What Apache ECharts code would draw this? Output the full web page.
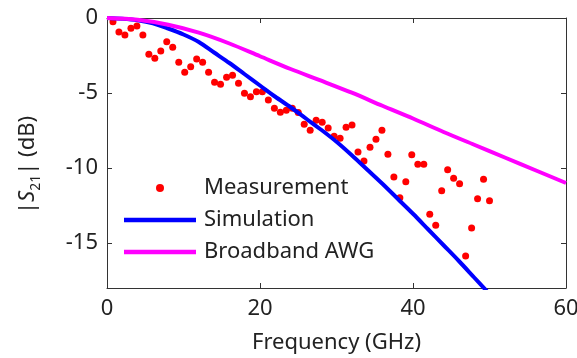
<!DOCTYPE html>
<html>
<head>
<meta charset="utf-8">
<script src="https://cdn.jsdelivr.net/npm/echarts@6/dist/echarts.min.js"></script>
<style>
  html, body { margin: 0; padding: 0; background: #fff; }
  #chart { width: 577px; height: 358px; }
</style>
</head>
<body>
<div id="chart"></div>
<script>
// measured |S21| (dB) vs frequency (GHz)
var measFreq = [0.78, 1.56, 2.34, 3.13, 3.91, 4.69, 5.47, 6.25, 7.03, 7.81,
  8.59, 9.38, 10.16, 10.94, 11.72, 12.5, 13.28, 14.06, 14.84, 15.63,
  16.41, 17.19, 17.97, 18.75, 19.53, 20.31, 21.09, 21.88, 22.66, 23.44,
  24.22, 25, 25.78, 26.56, 27.34, 28.13, 28.91, 29.69, 30.47, 31.25,
  32.03, 32.81, 33.59, 34.38, 35.16, 35.94, 36.72, 37.5, 38.28, 39.06,
  39.84, 40.63, 41.41, 42.19, 42.97, 43.75, 44.53, 45.31, 46.09, 46.88,
  47.66, 48.44, 49.22, 50];
var measDb = [-0.25, -0.93, -1.13, -0.69, -0.53, -1.13, -2.42, -2.69, -2.2, -1.58,
  -1.95, -2.95, -3.62, -3.25, -2.73, -2.95, -3.62, -4.29, -4.42, -3.95,
  -3.82, -4.35, -5.02, -5.25, -4.91, -4.91, -5.47, -6.02, -6.29, -6.15,
  -6.02, -6.3, -7.09, -7.49, -6.82, -6.95, -7.33, -7.89, -8.02, -7.29,
  -7.13, -8.93, -9.53, -8.62, -8.09, -7.49, -9.08, -10.6, -11.98, -10.91,
  -9.11, -9.75, -9.75, -13.09, -13.82, -11.51, -10.11, -10.69, -11.05, -15.87,
  -14.0, -12.05, -10.75, -12.18];

// simulated response
var simFreq = [0, 2, 4, 6, 8, 10, 12, 14, 16, 18, 20, 22, 24, 26, 28, 30,
  32, 34, 36, 38, 40, 42, 44, 46, 48, 50];
var simDb = [0, -0.05, -0.15, -0.35, -0.7, -1.1, -1.6, -2.3, -3.0, -3.75, -4.5,
  -5.25, -5.95, -6.7, -7.45, -8.25, -9.15, -10.1, -11.05, -12.05, -13.05,
  -14.1, -15.15, -16.2, -17.3, -18.4];

// broadband AWG response
var awgFreq = [0, 4, 8, 12, 16, 20, 24, 28, 32, 36, 40, 44, 48, 52, 56, 60];
var awgDb = [0, -0.12, -0.45, -0.98, -1.7, -2.55, -3.4, -4.18, -4.98, -5.85,
  -6.7, -7.6, -8.45, -9.3, -10.15, -11.0];

var xTicks = [0, 20, 40, 60];
var yTicks = [-15, -10, -5, 0];

function pairs(xs, ys) {
  var out = [];
  for (var i = 0; i < xs.length; i++) {
    out.push([xs[i], ys[i]]);
  }
  return out;
}

var FONT = 'Noto Sans';
var FS = 22;
var AXIS_COLOR = '#333';
var TEXT_COLOR = '#222';
// thin bar used as the legend icon for the two lines
var LINE_ICON = 'path://M0,0H72V4.5H0Z';

function xAxisBase(top) {
  return {
    type: 'value',
    position: top ? 'top' : 'bottom',
    min: 0,
    max: 60,
    axisLine: { show: true, onZero: false, lineStyle: { color: AXIS_COLOR, width: 1 } },
    axisTick: { show: true, inside: true, length: 5, customValues: xTicks, lineStyle: { color: AXIS_COLOR } },
    axisLabel: { show: !top, customValues: xTicks, margin: 10, fontSize: FS, fontFamily: FONT, color: TEXT_COLOR },
    splitLine: { show: false }
  };
}

function yAxisBase(right) {
  return {
    type: 'value',
    position: right ? 'right' : 'left',
    min: -18,
    max: 0,
    axisLine: { show: true, onZero: false, lineStyle: { color: AXIS_COLOR, width: 1 } },
    axisTick: { show: true, inside: true, length: 5, customValues: yTicks, lineStyle: { color: AXIS_COLOR } },
    axisLabel: { show: !right, customValues: yTicks, margin: 9, fontSize: FS, fontFamily: FONT, color: TEXT_COLOR },
    splitLine: { show: false }
  };
}

var chart = echarts.init(document.getElementById('chart'));

var xBottom = xAxisBase(false);
xBottom.name = 'Frequency (GHz)';
xBottom.nameLocation = 'middle';
xBottom.nameGap = 44;
xBottom.nameTextStyle = { fontSize: FS, fontFamily: FONT, color: TEXT_COLOR };

var yLeft = yAxisBase(false);
yLeft.name = '|{i|S}{sub|21}| (dB)';
yLeft.nameLocation = 'middle';
yLeft.nameGap = 64;
yLeft.nameTextStyle = {
  fontSize: FS, fontFamily: FONT, color: TEXT_COLOR,
  padding: [0, 24, 0, 0],
  rich: {
    i: { fontSize: FS, fontStyle: 'italic', fontFamily: FONT, color: TEXT_COLOR, lineHeight: 30, verticalAlign: 'middle' },
    sub: { fontSize: 14, fontFamily: FONT, color: TEXT_COLOR, lineHeight: 30, verticalAlign: 'bottom' }
  }
};

var option = {
  animation: false,
  backgroundColor: '#fff',
  grid: { left: 107, top: 18, right: 11, bottom: 70, outerBoundsMode: 'none' },
  legend: {
    orient: 'vertical',
    left: 119,
    top: 172,
    itemWidth: 72,
    itemHeight: 8,
    itemGap: 10,
    textStyle: { fontSize: FS, fontFamily: FONT, color: TEXT_COLOR, padding: [0, 0, 0, 3] },
    data: [
      { name: 'Measurement', icon: 'circle' },
      { name: 'Simulation', icon: LINE_ICON },
      { name: 'Broadband AWG', icon: LINE_ICON }
    ]
  },
  xAxis: [xBottom, xAxisBase(true)],
  yAxis: [yLeft, yAxisBase(true)],
  series: [
    {
      name: 'Measurement',
      type: 'scatter',
      symbol: 'circle',
      symbolSize: 7,
      itemStyle: { color: '#ff0000', opacity: 1 },
      data: pairs(measFreq, measDb)
    },
    {
      name: 'Simulation',
      type: 'line',
      symbol: 'none',
      smooth: 0.3,
      clip: true,
      lineStyle: { color: '#0000ff', width: 4 },
      itemStyle: { color: '#0000ff' },
      data: pairs(simFreq, simDb)
    },
    {
      name: 'Broadband AWG',
      type: 'line',
      symbol: 'none',
      smooth: 0.3,
      clip: true,
      lineStyle: { color: '#ff00ff', width: 4 },
      itemStyle: { color: '#ff00ff' },
      data: pairs(awgFreq, awgDb)
    }
  ]
};

chart.setOption(option);
</script>
</body>
</html>
